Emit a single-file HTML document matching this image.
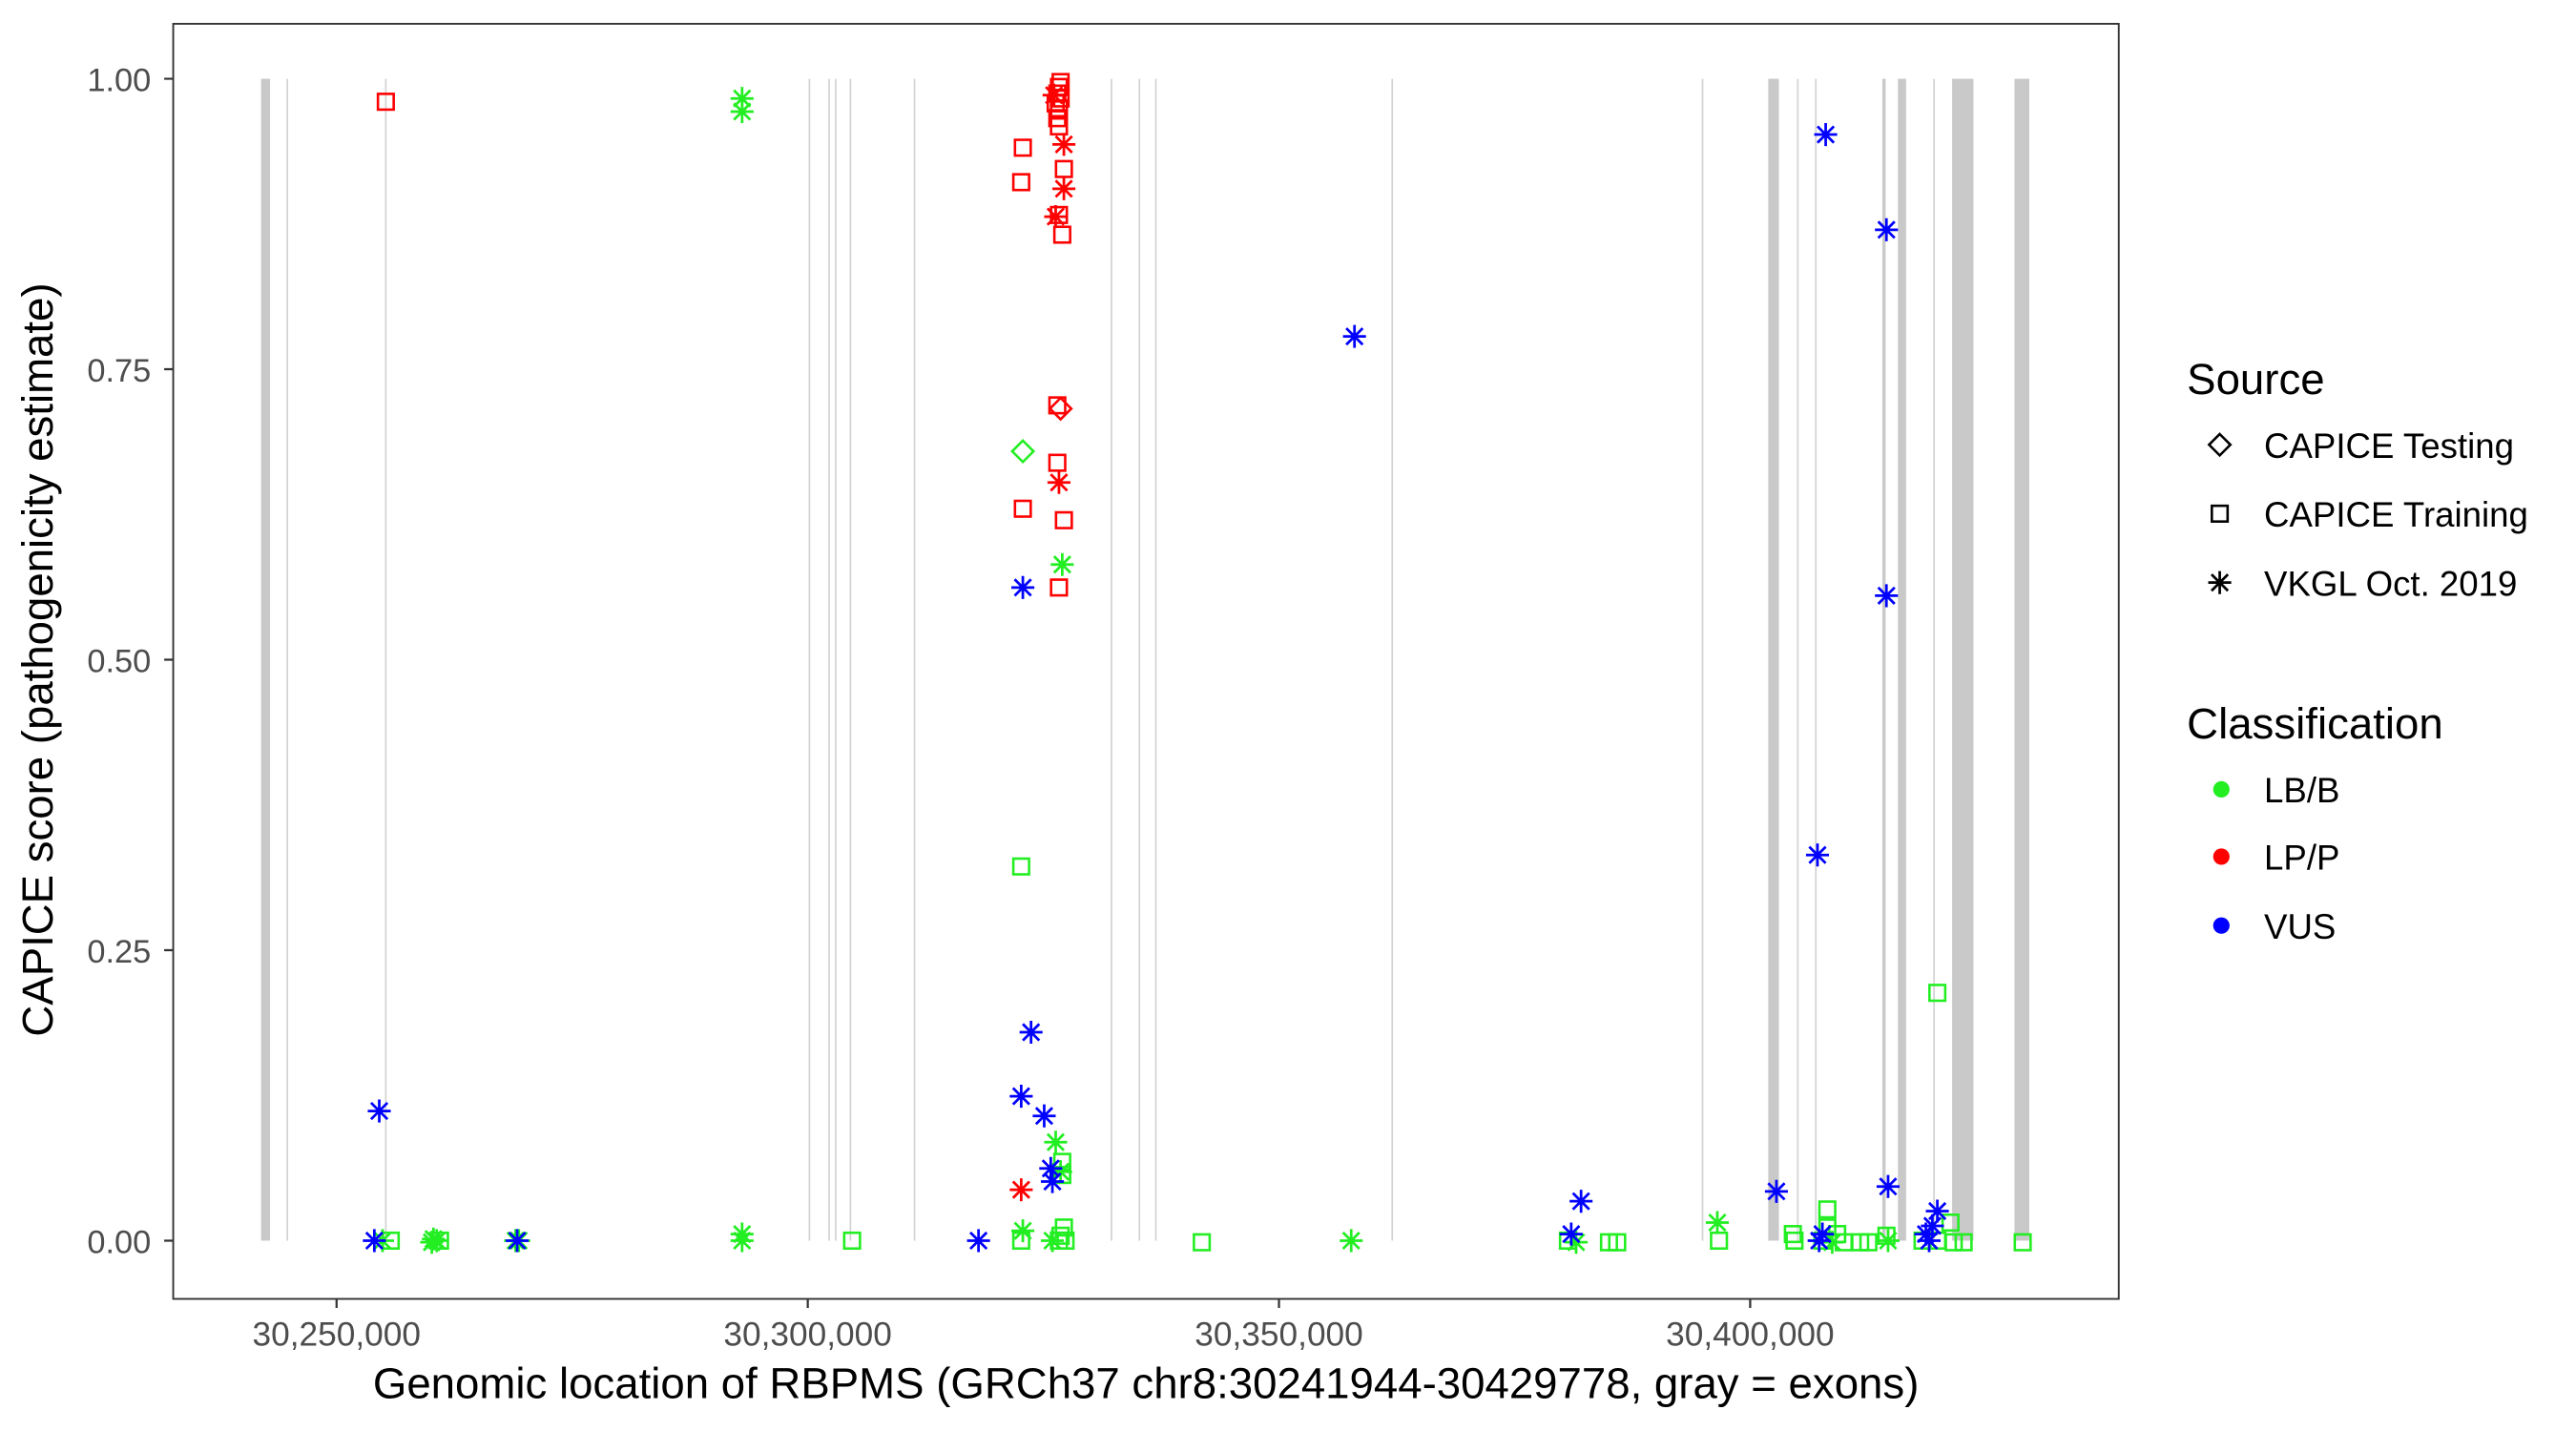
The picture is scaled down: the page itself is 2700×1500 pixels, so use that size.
<!DOCTYPE html>
<html><head><meta charset="utf-8"><style>
html,body{margin:0;padding:0;background:#fff;}
svg{display:block;}
text{font-family:"Liberation Sans",Arial,sans-serif;}
</style></head><body>
<svg width="2700" height="1500" viewBox="0 0 1569 872" preserveAspectRatio="none" xmlns="http://www.w3.org/2000/svg">
<defs>
<g id="st"><path d="M-7,0H7M0,-7V7M-5,-5L5,5M-5,5L5,-5" stroke-width="1.6" fill="none"/></g>
<g id="sq"><rect x="-4.8" y="-4.8" width="9.6" height="9.6" stroke-width="1.5" fill="none"/></g>
<g id="di"><path d="M0,-6.5L6.5,0L0,6.5L-6.5,0Z" stroke-width="1.5" fill="none"/></g>
</defs>
<rect width="1569" height="872" fill="#fff"/>
<g fill="#c9c9c9">
<rect x="159" y="48" width="5.5" height="708"/>
<rect x="1077" y="48" width="6.5" height="708"/>
<rect x="1156" y="48" width="5" height="708"/>
<rect x="1189" y="48" width="13" height="708"/>
<rect x="1227" y="48" width="9" height="708"/>
<rect x="1146.5" y="48" width="2" height="708"/>
</g>
<g stroke="#d3d3d3" stroke-width="1">
<path d="M175,48V756M235,48V756M493,48V756M505,48V756M509,48V756M518,48V756M557,48V756M677,48V756M694,48V756M704,48V756M848,48V756M1037,48V756M1095,48V756M1106,48V756M1178,48V756"/>
</g>
<g stroke="#ff0000">
<use href="#sq" x="235" y="62"/>
<use href="#sq" x="646" y="50"/><use href="#sq" x="645" y="53"/><use href="#sq" x="644" y="57"/><use href="#sq" x="646" y="60"/><use href="#sq" x="643" y="63"/><use href="#sq" x="645" y="66"/><use href="#sq" x="644" y="72"/><use href="#sq" x="645" y="77"/>
<use href="#st" x="642" y="58"/>
<use href="#sq" x="623" y="90"/><use href="#sq" x="622" y="111"/><use href="#sq" x="648" y="103"/>
<use href="#st" x="648" y="88"/><use href="#st" x="648" y="115"/><use href="#st" x="643" y="132"/>
<use href="#sq" x="645" y="131"/><use href="#sq" x="647" y="143"/>
<use href="#sq" x="644" y="247"/><use href="#di" x="646" y="249"/>
<use href="#sq" x="644" y="282"/><use href="#st" x="645" y="294"/><use href="#sq" x="623" y="310"/><use href="#sq" x="648" y="317"/><use href="#sq" x="645" y="358"/>
<use href="#st" x="622" y="725"/>
</g>
<g stroke="#22ee22">
<use href="#st" x="452" y="60"/><use href="#st" x="452" y="68"/>
<use href="#di" x="623" y="275"/>
<use href="#st" x="647" y="344"/>
<use href="#sq" x="622" y="528"/>
<use href="#st" x="643" y="696"/><use href="#sq" x="647" y="708"/><use href="#sq" x="647" y="716"/><use href="#st" x="646" y="714"/>
<use href="#sq" x="1180" y="605"/>
<use href="#st" x="1046" y="745"/>
<use href="#st" x="233" y="756"/><use href="#sq" x="238" y="756"/><use href="#st" x="264" y="755"/><use href="#st" x="266" y="756"/><use href="#st" x="263" y="757"/><use href="#sq" x="268" y="756"/>
<use href="#st" x="314" y="756"/><use href="#st" x="316" y="756"/><use href="#st" x="452" y="752"/><use href="#st" x="452" y="756"/><use href="#sq" x="519" y="756"/>
<use href="#st" x="623" y="750"/><use href="#sq" x="622" y="756"/><use href="#st" x="641" y="756"/><use href="#sq" x="645" y="756"/><use href="#sq" x="648" y="748"/><use href="#sq" x="649" y="756"/><use href="#sq" x="646" y="753"/>
<use href="#sq" x="732" y="757"/><use href="#st" x="823" y="756"/><use href="#sq" x="955" y="756"/><use href="#st" x="960" y="757"/><use href="#sq" x="980" y="757"/><use href="#sq" x="985" y="757"/><use href="#sq" x="1047" y="756"/>
<use href="#sq" x="1092" y="752"/><use href="#sq" x="1093" y="756"/><use href="#sq" x="1113" y="737"/><use href="#sq" x="1113" y="748"/><use href="#sq" x="1110" y="756"/><use href="#st" x="1116" y="757"/><use href="#sq" x="1119" y="752"/><use href="#sq" x="1123" y="757"/><use href="#sq" x="1133" y="757"/><use href="#sq" x="1138" y="757"/>
<use href="#st" x="1150" y="756"/><use href="#sq" x="1149" y="753"/><use href="#sq" x="1171" y="756"/><use href="#sq" x="1180" y="756"/><use href="#sq" x="1188" y="745"/><use href="#sq" x="1190" y="757"/><use href="#sq" x="1196" y="757"/><use href="#sq" x="1232" y="757"/>
</g>
<g stroke="#0000ff">
<use href="#st" x="231" y="677"/><use href="#st" x="228" y="756"/><use href="#st" x="315" y="756"/>
<use href="#st" x="623" y="358"/><use href="#st" x="628" y="629"/><use href="#st" x="622" y="668"/><use href="#st" x="636" y="680"/><use href="#st" x="640" y="712"/><use href="#st" x="641" y="720"/>
<use href="#st" x="596" y="756"/><use href="#st" x="825" y="205"/><use href="#st" x="1112" y="82"/><use href="#st" x="1149" y="140"/><use href="#st" x="1149" y="363"/><use href="#st" x="1107" y="521"/>
<use href="#st" x="1082" y="726"/><use href="#st" x="963" y="732"/><use href="#st" x="957" y="752"/><use href="#st" x="1150" y="723"/><use href="#st" x="1180" y="738"/><use href="#st" x="1177" y="747"/><use href="#st" x="1173" y="752"/><use href="#st" x="1175" y="756"/><use href="#st" x="1108" y="756"/><use href="#st" x="1110" y="752"/>
</g>
<rect x="105.5" y="14.5" width="1185" height="777" fill="none" stroke="#333" stroke-width="1.1"/>
<g stroke="#333" stroke-width="1.3"><path d="M100,48H105.5M100,225H105.5M100,402H105.5M100,579H105.5M100,756H105.5"/>
<path d="M205,791.5V797M492,791.5V797M779,791.5V797M1066,791.5V797"/></g>
<g font-size="20" fill="#4d4d4d" text-anchor="end">
<text x="92" y="55.5">1.00</text><text x="92" y="232.5">0.75</text><text x="92" y="409.5">0.50</text><text x="92" y="586.5">0.25</text><text x="92" y="763.5">0.00</text>
</g>
<g font-size="20.5" fill="#4d4d4d" text-anchor="middle">
<text x="205" y="820">30,250,000</text><text x="492" y="820">30,300,000</text><text x="779" y="820">30,350,000</text><text x="1066" y="820">30,400,000</text>
</g>
<text x="698" y="852" font-size="26.5" text-anchor="middle" fill="#000">Genomic location of RBPMS (GRCh37 chr8:30241944-30429778, gray = exons)</text>
<text transform="translate(32,402) rotate(-90)" font-size="26.5" text-anchor="middle" fill="#000">CAPICE score (pathogenicity estimate)</text>
<text x="1332" y="240" font-size="26.5" fill="#000">Source</text>
<g stroke="#000"><use href="#di" x="1352" y="271"/><use href="#sq" x="1352" y="313"/><use href="#st" x="1352" y="355"/></g>
<g font-size="21.3" fill="#000">
<text x="1379" y="279">CAPICE Testing</text><text x="1379" y="321">CAPICE Training</text><text x="1379" y="363">VKGL Oct. 2019</text>
</g>
<text x="1332" y="450" font-size="26.5" fill="#000">Classification</text>
<circle cx="1353" cy="481" r="5" fill="#22ee22"/><circle cx="1353" cy="522" r="5" fill="#ff0000"/><circle cx="1353" cy="564" r="5" fill="#0000ff"/>
<g font-size="21.3" fill="#000">
<text x="1379" y="489">LB/B</text><text x="1379" y="530">LP/P</text><text x="1379" y="572">VUS</text>
</g>
</svg>
</body></html>
